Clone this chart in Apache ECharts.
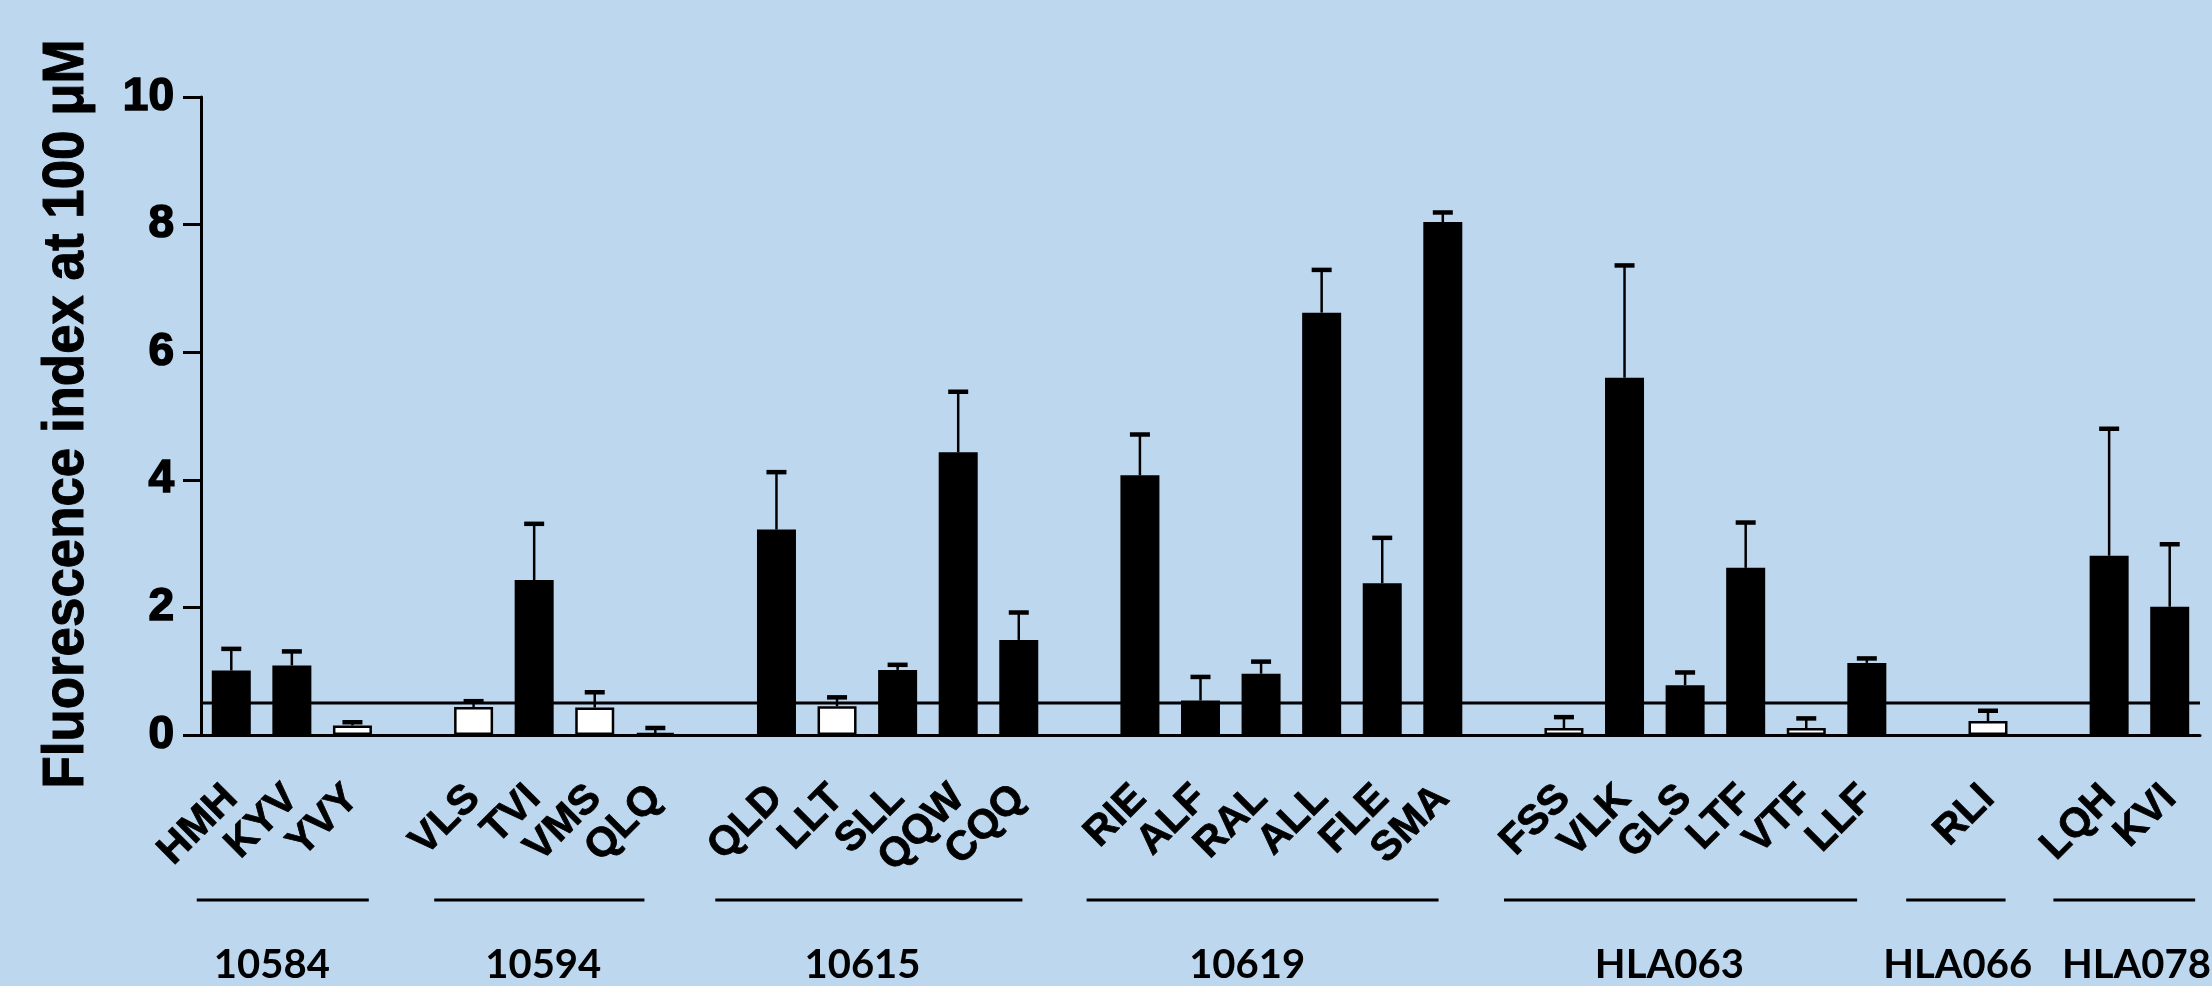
<!DOCTYPE html>
<html>
<head>
<meta charset="utf-8">
<title>Fluorescence index at 100 uM</title>
<script src="https://cdn.jsdelivr.net/npm/echarts@6/dist/echarts.min.js"></script>
<style>
html, body { margin: 0; padding: 0; background: #BDD7EE; }
#chart { width: 2212px; height: 986px; }
</style>
</head>
<body>
<div id="chart"></div>
<script>
// data
var groupNames = ['10584', '10594', '10615', '10619', 'HLA063', 'HLA066', 'HLA078'];
var peptides = [
    ['HMH', 'KYV', 'YVY'],
    ['VLS', 'TVI', 'VMS', 'QLQ'],
    ['QLD', 'LLT', 'SLL', 'QQW', 'CQQ'],
    ['RIE', 'ALF', 'RAL', 'ALL', 'FLE', 'SMA'],
    ['FSS', 'VLK', 'GLS', 'LTF', 'VTF', 'LLF'],
    ['RLI'],
    ['LQH', 'KVI']
];
var means = [
    [1.01, 1.09, 0.15],
    [0.44, 2.43, 0.43, 0.03],
    [3.22, 0.45, 1.02, 4.43, 1.49],
    [4.07, 0.54, 0.96, 6.62, 2.38, 8.04],
    [0.11, 5.60, 0.78, 2.62, 0.11, 1.13],
    [0.22],
    [2.81, 2.01]
];
var sems = [
    [0.34, 0.22, 0.05],
    [0.09, 0.88, 0.24, 0.08],
    [0.90, 0.14, 0.08, 0.95, 0.43],
    [0.64, 0.37, 0.19, 0.67, 0.71, 0.15],
    [0.17, 1.76, 0.20, 0.71, 0.15, 0.07],
    [0.16],
    [1.99, 0.98]
];
var yTicks = [0, 2, 4, 6, 8, 10];
var threshold = 0.5;
var yTitle = 'Fluorescence index at 100 \u03bcM';

// bracket extents / label centres under each group, in category units
var bracketSpans = [[-0.57, 2.27], [3.35, 6.82], [7.99, 13.06], [14.12, 19.93], [21.01, 26.84], [27.65, 29.29], [30.08, 32.42]];
var groupLabelPos = [0.67, 5.15, 10.42, 16.77, 23.74, 28.50, 31.45];

// flatten, one empty slot between groups
var categories = [], barData = [], errData = [];
peptides.forEach(function (list, g) {
    if (g > 0) {
        categories.push(' '.repeat(g));
        barData.push('-');
    }
    list.forEach(function (name, i) {
        var idx = categories.length;
        var v = means[g][i];
        categories.push(name);
        barData.push({ value: v, itemStyle: { color: v < threshold ? '#ffffff' : '#000000' } });
        errData.push([idx, v, v + sems[g][i]]);
    });
});

var chart = echarts.init(document.getElementById('chart'));

var sansFamily = "'Liberation Sans', Arial, sans-serif";

var option = {
    backgroundColor: '#BDD7EE',
    animation: false,
    grid: { left: 201, right: 12, top: 97, bottom: 251, containLabel: false, outerBoundsMode: 'none' },
    xAxis: {
        type: 'category',
        data: categories,
        axisLine: { lineStyle: { color: '#000', width: 3 } },
        axisTick: { alignWithLabel: true, interval: 0, length: 19, lineStyle: { color: '#000', width: 3 } },
        axisLabel: {
            interval: 0, rotate: 45, margin: 57, fontSize: 41,
            color: '#000', fontFamily: sansFamily, fontWeight: 'bold',
            textBorderColor: '#000', textBorderWidth: 0.8
        }
    },
    yAxis: {
        type: 'value',
        min: yTicks[0],
        max: yTicks[yTicks.length - 1],
        interval: 2,
        splitLine: { show: false },
        axisLine: { show: true, lineStyle: { color: '#000', width: 3 } },
        axisTick: { show: true, length: 18, lineStyle: { color: '#000', width: 3 } },
        axisLabel: {
            margin: 27, fontSize: 46,
            color: '#000', fontFamily: sansFamily, fontWeight: 'bold',
            textBorderColor: '#000', textBorderWidth: 1.6
        }
    },
    series: [{
        name: 'mean',
        type: 'bar',
        z: 2,
        barWidth: 39,
        data: barData,
        itemStyle: { borderColor: '#000', borderWidth: 2.5 }
    }, {
        name: 'sem',
        type: 'custom',
        z: 3,
        data: errData,
        encode: { x: 0, y: [1, 2] },
        renderItem: function (params, api) {
            var base = api.coord([api.value(0), api.value(1)]);
            var top = api.coord([api.value(0), api.value(2)]);
            return {
                type: 'group',
                children: [{
                    type: 'line',
                    shape: { x1: base[0], y1: base[1], x2: top[0], y2: top[1] },
                    style: { stroke: '#000', lineWidth: 2.5 }
                }, {
                    type: 'line',
                    shape: { x1: top[0] - 10, y1: top[1], x2: top[0] + 10, y2: top[1] },
                    style: { stroke: '#000', lineWidth: 4.5 }
                }]
            };
        }
    }]
};

chart.setOption(option);

// annotations placed with the axis scales
var x0 = chart.convertToPixel({ xAxisIndex: 0 }, categories[0]);
var band = chart.convertToPixel({ xAxisIndex: 0 }, categories[1]) - x0;
var yThr = chart.convertToPixel({ yAxisIndex: 0 }, threshold);
var gridRect = chart.getModel().getComponent('grid').coordinateSystem.getRect();

// the original title is a condensed face: squeeze it to the measured length
var titleFamily = "'Liberation Sans Narrow', 'Liberation Sans', Arial, sans-serif";
var ctx = document.createElement('canvas').getContext('2d');
ctx.font = 'bold 58px ' + titleFamily;
var titleScale = 749 / ctx.measureText(yTitle).width;

var graphics = [{
    type: 'line',
    z: 0,
    shape: { x1: gridRect.x, y1: yThr, x2: gridRect.x + gridRect.width, y2: yThr },
    style: { stroke: '#000', lineWidth: 3 }
}, {
    type: 'text',
    x: 67,
    y: 414,
    rotation: Math.PI / 2,
    scaleX: titleScale,
    style: {
        text: yTitle,
        fill: '#000',
        fontSize: 58,
        fontWeight: 'bold',
        fontFamily: titleFamily,
        align: 'center',
        verticalAlign: 'middle',
        stroke: '#000',
        lineWidth: 1
    }
}];

groupNames.forEach(function (name, g) {
    graphics.push({
        type: 'line',
        shape: { x1: x0 + bracketSpans[g][0] * band, y1: 900, x2: x0 + bracketSpans[g][1] * band, y2: 900 },
        style: { stroke: '#000', lineWidth: 3 }
    });
    graphics.push({
        type: 'text',
        x: x0 + groupLabelPos[g] * band,
        y: 965,
        style: {
            text: name,
            fill: '#000',
            fontSize: 40,
            fontWeight: 'bold',
            fontFamily: 'Lato, sans-serif',
            align: 'center',
            verticalAlign: 'middle'
        }
    });
});

chart.setOption({ graphic: graphics });
</script>
</body>
</html>
